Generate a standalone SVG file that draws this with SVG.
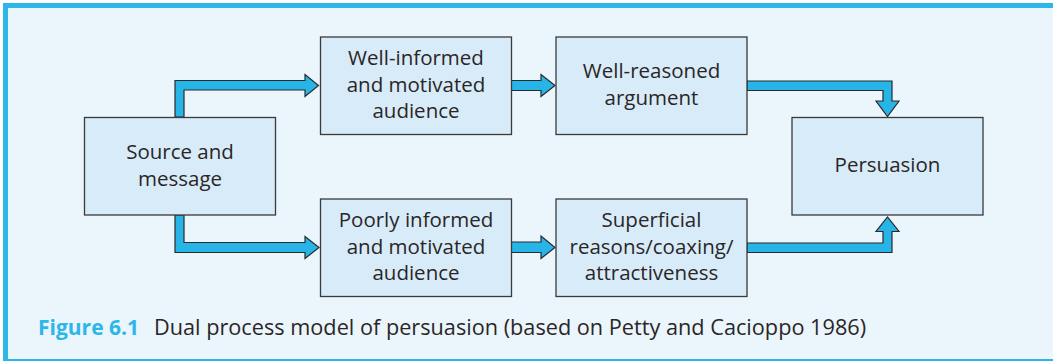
<svg xmlns="http://www.w3.org/2000/svg" width="1053" height="363" viewBox="0 0 1053 363">
  <style>
    .box { fill: #d8ebf8; stroke: #3a3a3a; stroke-width: 1.3; }
    .lbl { font-family: "Open Sans", "Noto Sans", sans-serif; font-size: 20.5px; fill: #2a2627; text-anchor: middle; }
    .arrow { fill: #27b5e8; stroke: #2b2b2b; stroke-width: 1.2; stroke-linejoin: miter; }
    .cap { font-family: "Open Sans", "Noto Sans", sans-serif; font-size: 21.7px; fill: #2a2627; }
    .capnum { fill: #2cb6e9; font-weight: bold; font-size: 21px; }
  </style>

  <!-- panel -->
  <rect x="0" y="0" width="1053" height="363" fill="#ffffff"/>
  <rect x="6" y="6" width="1047" height="354" fill="#eaf5fc"/>
  <rect x="3" y="3" width="1050" height="5" fill="#2cb6e9"/>
  <rect x="3" y="3" width="5" height="357" fill="#2cb6e9"/>
  <rect x="3" y="359" width="1050" height="2" fill="#2cb6e9"/>

  <!-- connectors -->
  <g id="connectors">
    <path class="arrow" d="M175,117 V80.5 H305 V74.5 L318.5,85.5 L305,96.5 V90 H184 V117 Z"/>
    <path class="arrow" d="M175,215 V252.5 H305 V258.5 L319,247.5 L305,236.5 V242.5 H184 V215 Z"/>
    <path class="arrow" d="M511,80.5 H541 V74.5 L555,85.5 L541,96.5 V90.5 H511 Z"/>
    <path class="arrow" d="M511,242 H541 V236 L555,247.5 L541,258.5 V252.5 H511 Z"/>
    <path class="arrow" d="M747,81 H892 V101 H899 L887.5,116.5 L876,101 H883 V90.5 H747 Z"/>
    <path class="arrow" d="M747,252.5 H892 V231.5 H899 L887.5,217 L876,231.5 H883 V243 H747 Z"/>
  </g>

  <g id="source">
    <rect class="box" x="84.5" y="117.5" width="191" height="97.5"/>
    <text class="lbl" x="180" y="159">Source and</text>
    <text class="lbl" x="180" y="185.5">message</text>
  </g>

  <g id="well-informed">
    <rect class="box" x="320.5" y="37" width="191" height="97.5"/>
    <text class="lbl" x="416" y="65">Well-informed</text>
    <text class="lbl" x="416" y="91.5">and motivated</text>
    <text class="lbl" x="416" y="118">audience</text>
  </g>

  <g id="poorly-informed">
    <rect class="box" x="320.5" y="199" width="191" height="97.5"/>
    <text class="lbl" x="416" y="227">Poorly informed</text>
    <text class="lbl" x="416" y="253.5">and motivated</text>
    <text class="lbl" x="416" y="280">audience</text>
  </g>

  <g id="well-reasoned">
    <rect class="box" x="556" y="37" width="191" height="97.5"/>
    <text class="lbl" x="651.5" y="78">Well-reasoned</text>
    <text class="lbl" x="651.5" y="104.5">argument</text>
  </g>

  <g id="superficial">
    <rect class="box" x="556" y="199" width="191" height="97.5"/>
    <text class="lbl" x="651.5" y="227">Superficial</text>
    <text class="lbl" x="651.5" y="253.5">reasons/coaxing/</text>
    <text class="lbl" x="651.5" y="280">attractiveness</text>
  </g>

  <g id="persuasion">
    <rect class="box" x="792" y="117.5" width="191" height="97.5"/>
    <text class="lbl" x="887.5" y="172">Persuasion</text>
  </g>

  <g id="caption">
    <text class="cap" x="38" y="335"><tspan class="capnum">Figure 6.1</tspan><tspan x="154">Dual process model of persuasion (based on Petty and Cacioppo 1986)</tspan></text>
  </g>
</svg>
